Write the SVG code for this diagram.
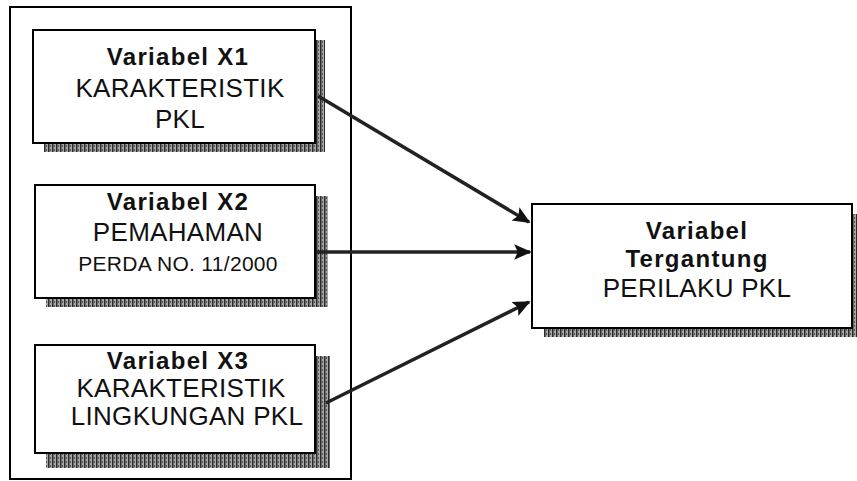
<svg xmlns="http://www.w3.org/2000/svg" width="857" height="481" viewBox="0 0 857 481">
<defs>
<pattern id="hatch" width="4" height="4" patternUnits="userSpaceOnUse">
<rect width="4" height="4" fill="#a8a8a8"/>
<rect x="0" y="0" width="1.5" height="4" fill="#2a2a2a"/>
<rect x="2" y="1" width="1" height="2" fill="#555"/>
</pattern>
<marker id="arr" markerWidth="5" markerHeight="5" refX="4.5" refY="2.5" orient="auto" markerUnits="strokeWidth">
<path d="M0,0.3 L5,2.5 L0,4.7 L1,2.5 Z" fill="#111"/>
</marker>
<style>
.box{fill:#fff;stroke:#000;stroke-width:2}
.shadow{fill:url(#hatch)}
.b{font-family:"Liberation Sans",Arial,sans-serif;font-weight:bold;font-size:24px;letter-spacing:1.3px;text-anchor:middle;fill:#111}
.r{font-family:"Liberation Sans",Arial,sans-serif;font-size:26px;letter-spacing:0.3px;text-anchor:middle;fill:#111}
.s{font-family:"Liberation Sans",Arial,sans-serif;font-size:21px;letter-spacing:0.3px;text-anchor:middle;fill:#111}
.conn{stroke:#222;stroke-width:3.5;fill:none;marker-end:url(#arr)}
</style>
</defs>
<g id="container">
<rect x="10" y="7" width="341" height="472" fill="none" stroke="#000" stroke-width="2"/>
</g>
<g id="x1">
<rect class="shadow" x="44" y="40" width="281" height="112"/>
<rect class="box" x="33" y="30" width="282" height="113"/>
<text class="b" x="178" y="65">Variabel X1</text>
<text class="r" x="180" y="97">KARAKTERISTIK</text>
<text class="r" x="180" y="128">PKL</text>
</g>
<g id="x2">
<rect class="shadow" x="46" y="196" width="282" height="111"/>
<rect class="box" x="35" y="185" width="280" height="113"/>
<text class="b" x="178" y="210">Variabel X2</text>
<text class="r" x="178" y="241">PEMAHAMAN</text>
<text class="s" x="178" y="271">PERDA  NO. 11/2000</text>
</g>
<g id="x3">
<rect class="shadow" x="46" y="356" width="284" height="112"/>
<rect class="box" x="35" y="345" width="280" height="108"/>
<text class="b" x="178" y="369">Variabel X3</text>
<text class="r" x="181" y="397">KARAKTERISTIK</text>
<text class="r" x="187" y="425">LINGKUNGAN PKL</text>
</g>
<g id="y">
<rect class="shadow" x="544" y="214" width="313" height="123"/>
<rect class="box" x="532" y="204" width="320" height="124"/>
<text class="b" x="697" y="239">Variabel</text>
<text class="b" x="697" y="267">Tergantung</text>
<text class="r" x="697" y="297">PERILAKU PKL</text>
</g>
<g id="connectors">
<line class="conn" x1="318" y1="96" x2="529" y2="222"/>
<line class="conn" x1="316" y1="252" x2="530" y2="252"/>
<line class="conn" x1="326" y1="403" x2="529" y2="302"/>
</g>
</svg>
